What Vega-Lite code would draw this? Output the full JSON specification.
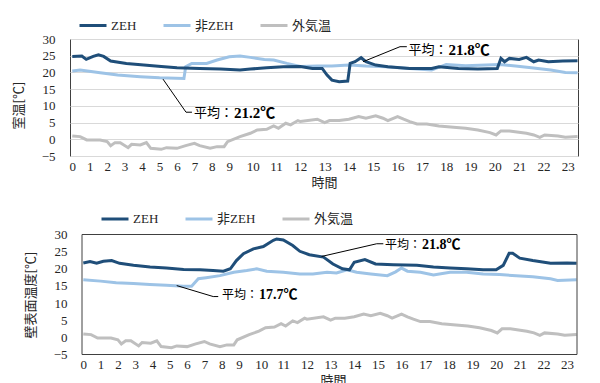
{
  "$schema": "https://vega.github.io/schema/vega-lite/v6.json",
  "padding": {"left": 11, "top": 10, "right": 5, "bottom": 5},
  "background": "white",
  "config": {
    "view": {"stroke": "#404040", "strokeWidth": 1},
    "axis": {"labelFont": "Liberation Serif", "labelFontSize": 13, "labelColor": "#262626", "titleFont": "Noto Sans CJK JP", "titleFontSize": 13, "titleFontWeight": "normal", "titleColor": "#262626", "ticks": false, "domain": false},
    "axisX": {"grid": false, "labelPadding": 4, "titlePadding": 3, "labelFlush": false, "labelOverlap": false},
    "axisY": {"grid": true, "gridColor": "#d9d9d9", "labelPadding": 15, "titlePadding": 16},
    "legend": {"symbolType": "stroke", "symbolSize": 729, "symbolStrokeWidth": 3, "labelFont": "Liberation Serif, Noto Sans CJK JP", "labelFontSize": 13, "labelColor": "#262626", "columnPadding": 20, "labelOffset": 3}
  },
  "datasets": {
    "outdoor": [
      {"h": 0, "v": 1.0, "s": "外気温"}, {"h": 0.45, "v": 0.8, "s": "外気温"}, {"h": 0.83, "v": -0.2, "s": "外気温"}, {"h": 1.6, "v": -0.2, "s": "外気温"},
      {"h": 2.0, "v": -0.7, "s": "外気温"}, {"h": 2.2, "v": -1.9, "s": "外気温"}, {"h": 2.45, "v": -1.0, "s": "外気温"}, {"h": 2.75, "v": -1.0, "s": "外気温"},
      {"h": 3.2, "v": -2.5, "s": "外気温"}, {"h": 3.4, "v": -1.5, "s": "外気温"}, {"h": 3.9, "v": -1.7, "s": "外気温"}, {"h": 4.25, "v": -1.0, "s": "外気温"},
      {"h": 4.5, "v": -2.7, "s": "外気温"}, {"h": 5.1, "v": -3.0, "s": "外気温"}, {"h": 5.4, "v": -2.5, "s": "外気温"}, {"h": 6.0, "v": -2.7, "s": "外気温"},
      {"h": 6.5, "v": -1.9, "s": "外気温"}, {"h": 7.0, "v": -1.2, "s": "外気温"}, {"h": 7.3, "v": -1.9, "s": "外気温"}, {"h": 7.9, "v": -2.7, "s": "外気温"},
      {"h": 8.3, "v": -2.2, "s": "外気温"}, {"h": 8.7, "v": -2.2, "s": "外気温"}, {"h": 8.9, "v": -0.7, "s": "外気温"}, {"h": 9.46, "v": 0.8, "s": "外気温"},
      {"h": 9.9, "v": 1.8, "s": "外気温"}, {"h": 10.2, "v": 2.8, "s": "外気温"}, {"h": 10.6, "v": 3.0, "s": "外気温"}, {"h": 10.9, "v": 4.0, "s": "外気温"},
      {"h": 11.1, "v": 3.3, "s": "外気温"}, {"h": 11.4, "v": 4.8, "s": "外気温"}, {"h": 11.6, "v": 4.3, "s": "外気温"}, {"h": 11.9, "v": 5.6, "s": "外気温"},
      {"h": 12.0, "v": 5.3, "s": "外気温"}, {"h": 12.7, "v": 6.0, "s": "外気温"}, {"h": 13.0, "v": 5.0, "s": "外気温"}, {"h": 13.2, "v": 5.6, "s": "外気温"},
      {"h": 13.6, "v": 5.6, "s": "外気温"}, {"h": 14.0, "v": 6.0, "s": "外気温"}, {"h": 14.4, "v": 6.8, "s": "外気温"}, {"h": 14.7, "v": 6.3, "s": "外気温"},
      {"h": 15.1, "v": 7.0, "s": "外気温"}, {"h": 15.4, "v": 6.3, "s": "外気温"}, {"h": 15.6, "v": 5.6, "s": "外気温"}, {"h": 16.0, "v": 6.8, "s": "外気温"},
      {"h": 16.25, "v": 6.0, "s": "外気温"}, {"h": 16.5, "v": 5.3, "s": "外気温"}, {"h": 16.8, "v": 4.6, "s": "外気温"}, {"h": 17.2, "v": 4.6, "s": "外気温"},
      {"h": 17.7, "v": 4.0, "s": "外気温"}, {"h": 18.3, "v": 3.6, "s": "外気温"}, {"h": 18.8, "v": 3.3, "s": "外気温"}, {"h": 19.3, "v": 2.8, "s": "外気温"},
      {"h": 19.8, "v": 2.0, "s": "外気温"}, {"h": 20.05, "v": 1.3, "s": "外気温"}, {"h": 20.25, "v": 2.5, "s": "外気温"}, {"h": 20.6, "v": 2.5, "s": "外気温"},
      {"h": 21.3, "v": 1.8, "s": "外気温"}, {"h": 21.6, "v": 1.3, "s": "外気温"}, {"h": 21.85, "v": 0.6, "s": "外気温"}, {"h": 22.05, "v": 1.3, "s": "外気温"},
      {"h": 22.6, "v": 1.0, "s": "外気温"}, {"h": 22.9, "v": 0.6, "s": "外気温"}, {"h": 23.4, "v": 0.8, "s": "外気温"}
    ],
    "room": [
      {"h": 0, "v": 20.4, "s": "非ZEH"}, {"h": 0.45, "v": 20.7, "s": "非ZEH"}, {"h": 1.6, "v": 19.9, "s": "非ZEH"}, {"h": 2.6, "v": 19.2, "s": "非ZEH"},
      {"h": 3.9, "v": 18.7, "s": "非ZEH"}, {"h": 5.0, "v": 18.4, "s": "非ZEH"}, {"h": 6.4, "v": 18.2, "s": "非ZEH"}, {"h": 6.5, "v": 21.7, "s": "非ZEH"},
      {"h": 6.85, "v": 22.7, "s": "非ZEH"}, {"h": 7.7, "v": 22.7, "s": "非ZEH"}, {"h": 8.3, "v": 23.7, "s": "非ZEH"}, {"h": 9.0, "v": 24.7, "s": "非ZEH"},
      {"h": 9.46, "v": 24.9, "s": "非ZEH"}, {"h": 9.9, "v": 24.5, "s": "非ZEH"}, {"h": 10.5, "v": 23.9, "s": "非ZEH"}, {"h": 10.9, "v": 23.7, "s": "非ZEH"},
      {"h": 11.45, "v": 22.7, "s": "非ZEH"}, {"h": 12.0, "v": 21.8, "s": "非ZEH"}, {"h": 12.7, "v": 21.9, "s": "非ZEH"}, {"h": 13.3, "v": 21.9, "s": "非ZEH"},
      {"h": 14.0, "v": 22.2, "s": "非ZEH"}, {"h": 14.7, "v": 21.9, "s": "非ZEH"}, {"h": 15.5, "v": 21.7, "s": "非ZEH"}, {"h": 16.5, "v": 21.2, "s": "非ZEH"},
      {"h": 17.4, "v": 20.7, "s": "非ZEH"}, {"h": 18.0, "v": 22.4, "s": "非ZEH"}, {"h": 18.8, "v": 22.0, "s": "非ZEH"}, {"h": 20.2, "v": 22.4, "s": "非ZEH"},
      {"h": 20.85, "v": 21.9, "s": "非ZEH"}, {"h": 21.5, "v": 21.4, "s": "非ZEH"}, {"h": 22.3, "v": 20.7, "s": "非ZEH"}, {"h": 22.9, "v": 20.0, "s": "非ZEH"},
      {"h": 23.4, "v": 19.9, "s": "非ZEH"},
      {"h": 0, "v": 24.8, "s": "ZEH"}, {"h": 0.55, "v": 24.9, "s": "ZEH"}, {"h": 0.8, "v": 23.9, "s": "ZEH"}, {"h": 1.2, "v": 24.8, "s": "ZEH"},
      {"h": 1.5, "v": 25.3, "s": "ZEH"}, {"h": 1.8, "v": 24.8, "s": "ZEH"}, {"h": 2.2, "v": 23.4, "s": "ZEH"}, {"h": 3.1, "v": 22.7, "s": "ZEH"},
      {"h": 4.1, "v": 22.2, "s": "ZEH"}, {"h": 5.1, "v": 21.8, "s": "ZEH"}, {"h": 6.0, "v": 21.4, "s": "ZEH"}, {"h": 7.3, "v": 21.2, "s": "ZEH"},
      {"h": 8.5, "v": 21.0, "s": "ZEH"}, {"h": 9.46, "v": 20.7, "s": "ZEH"}, {"h": 9.9, "v": 21.0, "s": "ZEH"}, {"h": 10.6, "v": 21.4, "s": "ZEH"},
      {"h": 11.3, "v": 21.7, "s": "ZEH"}, {"h": 12.0, "v": 21.8, "s": "ZEH"}, {"h": 12.5, "v": 21.2, "s": "ZEH"}, {"h": 12.9, "v": 21.2, "s": "ZEH"},
      {"h": 13.1, "v": 19.2, "s": "ZEH"}, {"h": 13.3, "v": 17.7, "s": "ZEH"}, {"h": 13.6, "v": 17.2, "s": "ZEH"}, {"h": 13.95, "v": 17.4, "s": "ZEH"},
      {"h": 14.05, "v": 22.7, "s": "ZEH"}, {"h": 14.25, "v": 23.2, "s": "ZEH"}, {"h": 14.5, "v": 24.4, "s": "ZEH"}, {"h": 14.7, "v": 23.2, "s": "ZEH"},
      {"h": 15.1, "v": 22.2, "s": "ZEH"}, {"h": 15.6, "v": 21.7, "s": "ZEH"}, {"h": 16.5, "v": 21.2, "s": "ZEH"}, {"h": 17.4, "v": 21.2, "s": "ZEH"},
      {"h": 17.7, "v": 21.7, "s": "ZEH"}, {"h": 18.5, "v": 21.2, "s": "ZEH"}, {"h": 19.3, "v": 21.0, "s": "ZEH"}, {"h": 20.1, "v": 21.2, "s": "ZEH"},
      {"h": 20.25, "v": 24.2, "s": "ZEH"}, {"h": 20.4, "v": 23.2, "s": "ZEH"}, {"h": 20.6, "v": 24.2, "s": "ZEH"}, {"h": 21.0, "v": 23.9, "s": "ZEH"},
      {"h": 21.3, "v": 24.5, "s": "ZEH"}, {"h": 21.6, "v": 23.2, "s": "ZEH"}, {"h": 21.8, "v": 23.7, "s": "ZEH"}, {"h": 22.2, "v": 23.2, "s": "ZEH"},
      {"h": 22.8, "v": 23.4, "s": "ZEH"}, {"h": 23.4, "v": 23.5, "s": "ZEH"}
    ],
    "wall": [
      {"h": 0, "v": 16.8, "s": "非ZEH"}, {"h": 1.0, "v": 16.4, "s": "非ZEH"}, {"h": 1.9, "v": 15.9, "s": "非ZEH"}, {"h": 2.9, "v": 15.7, "s": "非ZEH"},
      {"h": 3.85, "v": 15.4, "s": "非ZEH"}, {"h": 4.8, "v": 15.2, "s": "非ZEH"}, {"h": 5.8, "v": 14.9, "s": "非ZEH"}, {"h": 6.26, "v": 14.9, "s": "非ZEH"},
      {"h": 6.65, "v": 17.1, "s": "非ZEH"}, {"h": 7.1, "v": 17.4, "s": "非ZEH"}, {"h": 7.9, "v": 18.0, "s": "非ZEH"}, {"h": 8.7, "v": 19.0, "s": "非ZEH"},
      {"h": 9.35, "v": 19.5, "s": "非ZEH"}, {"h": 9.8, "v": 20.0, "s": "非ZEH"}, {"h": 10.25, "v": 19.3, "s": "非ZEH"}, {"h": 11.0, "v": 19.0, "s": "非ZEH"},
      {"h": 11.7, "v": 18.5, "s": "非ZEH"}, {"h": 12.25, "v": 18.5, "s": "非ZEH"}, {"h": 12.85, "v": 19.0, "s": "非ZEH"}, {"h": 13.25, "v": 18.8, "s": "非ZEH"},
      {"h": 13.7, "v": 19.7, "s": "非ZEH"}, {"h": 14.1, "v": 19.0, "s": "非ZEH"}, {"h": 14.7, "v": 18.5, "s": "非ZEH"}, {"h": 15.4, "v": 18.0, "s": "非ZEH"},
      {"h": 15.75, "v": 19.1, "s": "非ZEH"}, {"h": 16.0, "v": 20.2, "s": "非ZEH"}, {"h": 16.25, "v": 19.3, "s": "非ZEH"}, {"h": 16.8, "v": 19.0, "s": "非ZEH"},
      {"h": 17.35, "v": 18.2, "s": "非ZEH"}, {"h": 18.05, "v": 19.0, "s": "非ZEH"}, {"h": 18.75, "v": 19.0, "s": "非ZEH"}, {"h": 19.45, "v": 18.5, "s": "非ZEH"},
      {"h": 20.15, "v": 18.3, "s": "非ZEH"}, {"h": 20.85, "v": 18.0, "s": "非ZEH"}, {"h": 21.55, "v": 17.7, "s": "非ZEH"}, {"h": 22.3, "v": 17.1, "s": "非ZEH"},
      {"h": 22.6, "v": 16.6, "s": "非ZEH"}, {"h": 23.4, "v": 16.8, "s": "非ZEH"},
      {"h": 0, "v": 21.7, "s": "ZEH"}, {"h": 0.39, "v": 22.1, "s": "ZEH"}, {"h": 0.77, "v": 21.6, "s": "ZEH"}, {"h": 1.16, "v": 22.2, "s": "ZEH"},
      {"h": 1.64, "v": 22.4, "s": "ZEH"}, {"h": 2.1, "v": 21.6, "s": "ZEH"}, {"h": 2.9, "v": 21.0, "s": "ZEH"}, {"h": 3.86, "v": 20.5, "s": "ZEH"},
      {"h": 4.8, "v": 20.2, "s": "ZEH"}, {"h": 5.8, "v": 19.8, "s": "ZEH"}, {"h": 6.75, "v": 19.7, "s": "ZEH"}, {"h": 7.5, "v": 19.5, "s": "ZEH"},
      {"h": 8.1, "v": 19.3, "s": "ZEH"}, {"h": 8.5, "v": 20.0, "s": "ZEH"}, {"h": 8.85, "v": 22.4, "s": "ZEH"}, {"h": 9.2, "v": 24.4, "s": "ZEH"},
      {"h": 9.65, "v": 25.8, "s": "ZEH"}, {"h": 10.1, "v": 26.5, "s": "ZEH"}, {"h": 10.55, "v": 28.3, "s": "ZEH"}, {"h": 10.7, "v": 28.7, "s": "ZEH"},
      {"h": 11.0, "v": 28.4, "s": "ZEH"}, {"h": 11.4, "v": 26.8, "s": "ZEH"}, {"h": 11.7, "v": 25.1, "s": "ZEH"}, {"h": 12.1, "v": 24.1, "s": "ZEH"},
      {"h": 12.7, "v": 23.4, "s": "ZEH"}, {"h": 13.1, "v": 21.4, "s": "ZEH"}, {"h": 13.5, "v": 20.0, "s": "ZEH"}, {"h": 13.8, "v": 19.7, "s": "ZEH"},
      {"h": 14.0, "v": 21.9, "s": "ZEH"}, {"h": 14.45, "v": 22.7, "s": "ZEH"}, {"h": 14.9, "v": 21.4, "s": "ZEH"}, {"h": 15.65, "v": 21.2, "s": "ZEH"},
      {"h": 16.65, "v": 21.0, "s": "ZEH"}, {"h": 17.35, "v": 20.5, "s": "ZEH"}, {"h": 18.05, "v": 20.2, "s": "ZEH"}, {"h": 18.75, "v": 20.0, "s": "ZEH"},
      {"h": 19.45, "v": 19.7, "s": "ZEH"}, {"h": 20.0, "v": 19.7, "s": "ZEH"}, {"h": 20.3, "v": 21.0, "s": "ZEH"}, {"h": 20.55, "v": 24.5, "s": "ZEH"},
      {"h": 20.7, "v": 24.5, "s": "ZEH"}, {"h": 21.0, "v": 23.1, "s": "ZEH"}, {"h": 21.55, "v": 22.4, "s": "ZEH"}, {"h": 22.3, "v": 21.6, "s": "ZEH"},
      {"h": 23.0, "v": 21.7, "s": "ZEH"}, {"h": 23.4, "v": 21.6, "s": "ZEH"}
    ],
    "lead_room": [
      {"id": 1, "h": 5.2, "v": 18.0}, {"id": 1, "h": 6.52, "v": 8.1}, {"id": 1, "h": 6.86, "v": 8.1},
      {"id": 2, "h": 14.58, "v": 23.2}, {"id": 2, "h": 16.1, "v": 27.7}, {"id": 2, "h": 16.38, "v": 27.7}
    ],
    "lead_wall": [
      {"id": 3, "h": 12.62, "v": 23.6}, {"id": 3, "h": 14.95, "v": 27.3}, {"id": 3, "h": 15.23, "v": 27.3},
      {"id": 4, "h": 5.4, "v": 15.1}, {"id": 4, "h": 7.51, "v": 11.9}, {"id": 4, "h": 7.8, "v": 11.9}
    ],
    "avg_room": [
      {"h": 6.98, "v": 7.8, "avg": "21.2℃"},
      {"h": 16.45, "v": 26.7, "avg": "21.8℃"}
    ],
    "avg_wall": [
      {"h": 15.3, "v": 26.8, "avg": "21.8℃"},
      {"h": 8.02, "v": 12.4, "avg": "17.7℃"}
    ],
    "gridvals": [{"v": -5}, {"v": 0}, {"v": 5}, {"v": 10}, {"v": 15}, {"v": 20}, {"v": 25}, {"v": 30}],
    "frame": [{"x1": -0.075, "x2": 23.42, "y1": -5, "y2": 30}]
  },
  "concat": [
    {
      "width": 508,
      "height": 117,
      "encoding": {
        "x": {"field": "h", "type": "quantitative", "scale": {"domain": [-0.13, 9, 11, 23.42], "range": [0, 159.3, 206, 508], "nice": false, "zero": false}, "axis": {"values": [0,1,2,3,4,5,6,7,8,9,10,11,12,13,14,15,16,17,18,19,20,21,22,23], "title": "時間"}},
        "y": {"field": "v", "type": "quantitative", "scale": {"domain": [-5, 30], "nice": false, "zero": false}, "axis": {"values": [-5,0,5,10,15,20,25,30], "title": "室温[℃]", "titleY": 66}}
      },
      "layer": [
        {"data": {"name": "outdoor"}, "mark": {"type": "line", "strokeWidth": 3},
         "encoding": {"color": {"field": "s", "type": "nominal", "scale": {"domain": ["ZEH", "非ZEH", "外気温"], "range": ["#1f4e79", "#9dc3e6", "#bfbfbf"]}, "legend": {"orient": "none", "legendX": 8, "legendY": -28.5, "direction": "horizontal", "title": null}}}},
        {"data": {"name": "room"}, "mark": {"type": "line", "strokeWidth": 3},
         "encoding": {"color": {"field": "s", "type": "nominal", "scale": {"domain": ["ZEH", "非ZEH", "外気温"], "range": ["#1f4e79", "#9dc3e6", "#bfbfbf"]}, "legend": {"orient": "none", "legendX": 8, "legendY": -28.5, "direction": "horizontal", "title": null}}}},
        {"data": {"name": "lead_room"}, "mark": {"type": "line", "strokeWidth": 1, "color": "#000000"},
         "encoding": {"detail": {"field": "id", "type": "nominal"}}},
        {"data": {"name": "avg_room"}, "mark": {"type": "text", "align": "left", "baseline": "middle", "font": "Noto Sans CJK JP", "fontSize": 13, "color": "#000000"},
         "encoding": {"text": {"value": "平均："}}},
        {"data": {"name": "avg_room"}, "mark": {"type": "text", "align": "left", "baseline": "middle", "dx": 40, "font": "Liberation Serif, Noto Sans CJK JP", "fontSize": 15, "fontWeight": "bold", "color": "#000000"},
         "encoding": {"text": {"field": "avg", "type": "nominal"}}}
      ]
    },
    {
      "width": 507,
      "height": 120,
      "view": {"stroke": null},
      "encoding": {
        "x": {"field": "h", "type": "quantitative", "scale": {"domain": [-0.075, 9, 11, 23.42], "range": [12, 169, 213.3, 507], "nice": false, "zero": false}, "axis": {"values": [0,1,2,3,4,5,6,7,8,9,10,11,12,13,14,15,16,17,18,19,20,21,22,23], "title": "時間", "titleX": 263}},
        "y": {"field": "v", "type": "quantitative", "scale": {"domain": [-5, 30], "nice": false, "zero": false}, "axis": {"values": [-5,0,5,10,15,20,25,30], "title": "壁表面温度[℃]", "grid": false, "offset": -12}}
      },
      "layer": [
        {"data": {"name": "gridvals"}, "mark": {"type": "rule", "color": "#d9d9d9", "strokeWidth": 1},
         "encoding": {"x": {"datum": -0.075, "type": "quantitative"}, "x2": {"datum": 23.42}, "y": {"field": "v", "type": "quantitative"}}},
        {"data": {"name": "outdoor"}, "mark": {"type": "line", "strokeWidth": 3},
         "encoding": {"color": {"field": "s", "type": "nominal", "scale": {"domain": ["ZEH", "非ZEH", "外気温"], "range": ["#1f4e79", "#9dc3e6", "#bfbfbf"]}, "legend": {"orient": "none", "legendX": 30, "legendY": -30.5, "direction": "horizontal", "title": null}}}},
        {"data": {"name": "wall"}, "mark": {"type": "line", "strokeWidth": 3},
         "encoding": {"color": {"field": "s", "type": "nominal", "scale": {"domain": ["ZEH", "非ZEH", "外気温"], "range": ["#1f4e79", "#9dc3e6", "#bfbfbf"]}, "legend": {"orient": "none", "legendX": 30, "legendY": -30.5, "direction": "horizontal", "title": null}}}},
        {"data": {"name": "lead_wall"}, "mark": {"type": "line", "strokeWidth": 1, "color": "#000000"},
         "encoding": {"detail": {"field": "id", "type": "nominal"}}},
        {"data": {"name": "avg_wall"}, "mark": {"type": "text", "align": "left", "baseline": "middle", "font": "Noto Sans CJK JP", "fontSize": 12, "color": "#000000"},
         "encoding": {"text": {"value": "平均："}}},
        {"data": {"name": "avg_wall"}, "mark": {"type": "text", "align": "left", "baseline": "middle", "dx": 37, "font": "Liberation Serif, Noto Sans CJK JP", "fontSize": 14, "fontWeight": "bold", "color": "#000000"},
         "encoding": {"text": {"field": "avg", "type": "nominal"}}},
        {"data": {"name": "frame"}, "mark": {"type": "rect", "fill": null, "stroke": "#404040", "strokeWidth": 1},
         "encoding": {"x": {"field": "x1", "type": "quantitative"}, "x2": {"field": "x2"}, "y": {"field": "y1", "type": "quantitative"}, "y2": {"field": "y2"}}}
      ]
    }
  ],
  "columns": 1,
  "spacing": 13.5,
  "resolve": {"scale": {"color": "independent", "x": "independent", "y": "independent"}, "legend": {"color": "independent"}}
}
